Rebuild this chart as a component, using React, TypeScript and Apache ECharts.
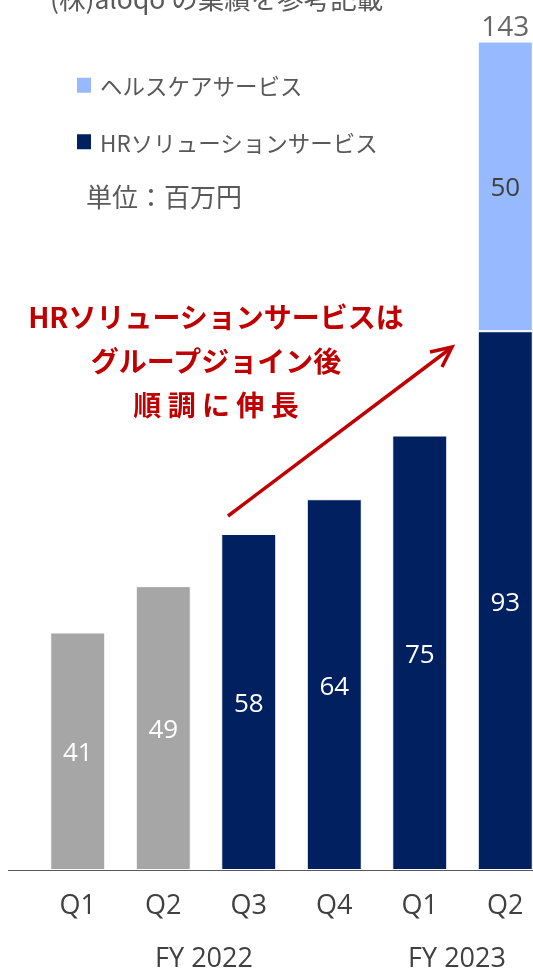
import { useEffect, useRef } from "react";
import * as echarts from "echarts";

const quarters = ["Q1", "Q2", "Q3", "Q4", "Q1", "Q2"];
const fiscalYears = ["FY 2022", "FY 2023"];
const hrValues = [41, 49, 58, 64, 75, 93];
const healthcareValues: (number | null)[] = [null, null, null, null, null, 50];
const preJoinQuarters = 2;
const hrName = "HRソリューションサービス";
const healthName = "ヘルスケアサービス";
const unitLabel = "単位：百万円";
const sourceNote = "(株)aloqo の業績を参考記載";
const annotationLines = ["HRソリューションサービスは", "グループジョイン後", "順 調 に 伸 長"];

const totals = hrValues.map((v, i) =>
  healthcareValues[i] == null ? null : v + (healthcareValues[i] as number)
);

const NAVY = "#002060";
const GRAY = "#A6A6A6";
const LIGHT = "#97B9FF";
const RED = "#C00000";
const TEXT = "#404040";
const LATIN = "'Open Sans', 'Noto Sans CJK JP', sans-serif";
const JP = "'Noto Sans CJK JP', sans-serif";

export default function App() {
  const ref = useRef<HTMLDivElement>(null);
  useEffect(() => {
    if (!ref.current) return;
    const chart = echarts.init(ref.current, null, { renderer: "svg" });
    chart.setOption({
      animation: false,
      grid: { left: 35, top: 1, width: 513, height: 869 },
      legend: {
        data: [healthName, hrName],
        orient: "vertical",
        left: 77,
        top: 74,
        padding: 0,
        itemWidth: 14,
        itemHeight: 15,
        itemGap: 34,
        icon: "rect",
        selectedMode: false,
        itemStyle: { borderWidth: 0 },
        textStyle: { fontSize: 22.5, color: "#595959", fontFamily: JP, padding: [0, 0, 0, 4] },
      },
      xAxis: {
        type: "category",
        data: quarters,
        axisLine: { show: true, lineStyle: { color: "#595959", width: 1 } },
        axisTick: { show: false },
        axisLabel: { color: TEXT, fontSize: 27, fontFamily: LATIN, margin: 20 },
      },
      yAxis: { type: "value", min: 0, max: 150, show: false, splitLine: { show: false } },
      series: [
        {
          name: hrName,
          type: "bar",
          stack: "s",
          barWidth: 55,
          itemStyle: { color: NAVY, borderColor: "#fff", borderWidth: 1 },
          data: hrValues.map((v, i) =>
            i < preJoinQuarters ? { value: v, itemStyle: { color: GRAY } } : v
          ),
          label: { show: true, position: "inside", color: "#fff", fontSize: 26, fontFamily: LATIN },
        },
        {
          name: healthName,
          type: "bar",
          stack: "s",
          barWidth: 55,
          itemStyle: { color: LIGHT, borderColor: "#fff", borderWidth: 1 },
          data: healthcareValues,
          label: { show: true, position: "inside", color: TEXT, fontSize: 26, fontFamily: LATIN },
        },
        {
          name: "total",
          type: "scatter",
          symbolSize: 0,
          data: totals,
          label: { show: true, position: "top", distance: 3, color: TEXT, fontSize: 28, fontFamily: LATIN },
        },
      ],
      graphic: [
        { type: "line", shape: { x1: 8, y1: 870.5, x2: 36, y2: 870.5 }, style: { stroke: "#595959", lineWidth: 1 } },
        {
          type: "text",
          x: 50,
          y: -3,
          style: { text: sourceNote, fontSize: 26.5, fill: "#595959", fontFamily: JP, verticalAlign: "middle", align: "left" },
        },
        {
          type: "text",
          x: 86,
          y: 195,
          style: { text: unitLabel, fontSize: 26, fill: "#595959", fontFamily: JP, verticalAlign: "middle", align: "left" },
        },
        ...annotationLines.map((t, i) => ({
          type: "text",
          x: 216,
          y: 316 + i * 44,
          style: { text: t, fontSize: 28, fontWeight: "bold", fill: RED, fontFamily: JP, align: "center", verticalAlign: "middle" },
        })),
        { type: "line", shape: { x1: 228, y1: 516, x2: 451, y2: 348 }, style: { stroke: RED, lineWidth: 3.5 } },
        {
          type: "polyline",
          shape: { points: [[430, 352], [452, 347], [442, 367]] },
          style: { stroke: RED, lineWidth: 3.5, fill: "none" },
        },
        ...fiscalYears.map((t, i) => ({
          type: "text",
          x: i === 0 ? 204 : 457,
          y: 956,
          style: { text: t, fontSize: 27, fill: TEXT, fontFamily: LATIN, align: "center", verticalAlign: "middle" },
        })),
      ],
    });
    return () => chart.dispose();
  }, []);
  return <div ref={ref} style={{ position: "fixed", left: 0, top: 0, width: 560, height: 969 }} />;
}
